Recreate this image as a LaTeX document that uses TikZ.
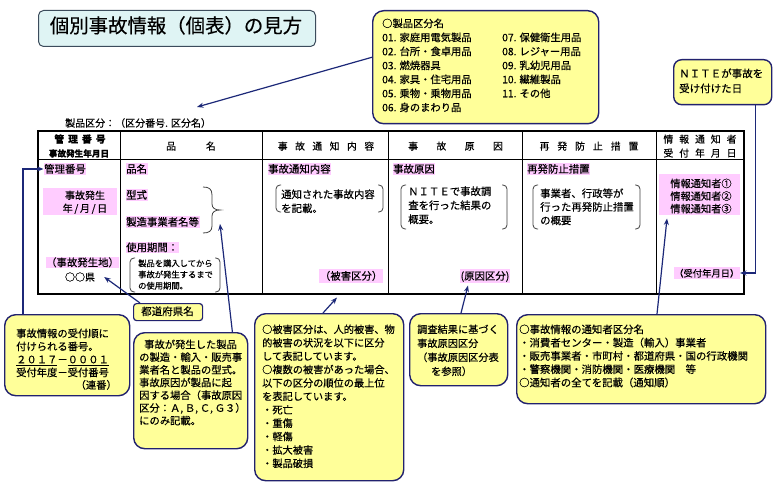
\documentclass[tikz,border=0pt]{standalone}
\usepackage{fontspec}
\setmainfont{Noto Sans CJK JP}[FakeBold=0.35]
\usetikzlibrary{arrows.meta,calc}
\definecolor{navy}{HTML}{22226E}
\definecolor{arrowc}{HTML}{1C2878}
\definecolor{boxy}{HTML}{FFFF99}
\definecolor{pinkhl}{HTML}{FFCCFF}
\definecolor{titlefill}{HTML}{DFF4F4}
\definecolor{titledraw}{HTML}{3C4C5C}
\newcommand{\fs}[2]{\fontsize{#1bp}{#2bp}\selectfont}
\newcommand{\gp}[1]{\hspace{#1bp}}
\begin{document}
\begin{tikzpicture}[x=1bp,y=-1bp,
  ybox/.style={draw=navy, line width=1.4bp, fill=boxy, rounded corners=11bp, inner sep=0, anchor=north west},
  hl/.style={fill=pinkhl, inner xsep=0.5bp, inner ysep=1.5bp, text height=0.83em, text depth=0.07em},
  hlbox/.style={fill=pinkhl, inner sep=0, anchor=north west},
  txt/.style={inner sep=0, anchor=north west, align=left},
  hdr/.style={inner sep=0, text height=0.83em, text depth=0.07em, font=\fs{9.8}{12}},
  arr/.style={draw=arrowc, line width=1.2bp, -{Stealth[length=6.5bp,width=5bp]}},
  brk/.style={draw=black!75, line width=0.8bp, rounded corners=4bp}
]
\useasboundingbox (0,0) rectangle (778,485);
\fill[white] (0,0) rectangle (778,485);

% title
\node[draw=titledraw, line width=1bp, fill=titlefill, rounded corners=5bp, inner sep=0,
      minimum width=277bp, minimum height=36bp, anchor=north west] (title) at (38,10) {};
\node[inner sep=0, text height=0.83em, text depth=0.07em, font=\fs{19.4}{22}] (titletxt) at (176,29) {個別事故情報（個表）の見方};

% label above table
\node[inner sep=0, anchor=west, text height=0.83em, text depth=0.07em, font=\fs{10}{12}] (seihin) at (65,123) {製品区分：（区分番号. 区分名）};
\coordinate (c1) at (197,107);

% table
\draw[line width=1.4bp] (38,131) rectangle (744,294);
\draw[line width=1bp] (38,160) -- (744,160);
\foreach \cx in {120,262,388,522,656} \draw[line width=1bp] (\cx,131) -- (\cx,294);

% header
\node[hdr, font=\fs{9.8}{12}\bfseries] (h1a) at (80,139) {管\gp{4}理\gp{4}番\gp{4}号};
\node[hdr, font=\fs{8.6}{10}\bfseries] (h1b) at (79,153) {事故発生年月日};
\node[hdr] (h2) at (191,146) {品\gp{30}名};
\node[hdr] (h3) at (326,146) {事\gp{7.5}故\gp{7.5}通\gp{7.5}知\gp{7.5}内\gp{7.5}容};
\node[hdr] (h4) at (455.5,146) {事\gp{18.5}故\gp{18.5}原\gp{18.5}因};
\node[hdr] (h5) at (589,146) {再\gp{8}発\gp{8}防\gp{8}止\gp{8}措\gp{8}置};
\node[hdr] (h6a) at (700,139) {情\gp{6}報\gp{6}通\gp{6}知\gp{6}者};
\node[hdr] (h6b) at (700,153) {受\gp{6}付\gp{6}年\gp{6}月\gp{6}日};

% column 1
\node[hl, anchor=west, font=\fs{10.4}{12}] (hl1) at (43.5,169) {管理番号};
\node[hlbox, minimum width=74bp, minimum height=27bp] (hl2) at (43,188) {};
\node[txt, align=center, anchor=north, font=\fs{10}{13}] (hl2t) at (85,190.5) {事故発生\\年\,/\,月\,/\,日};
\node[hl, font=\fs{10.4}{12}] (hl3) at (82.5,262.5) {（事故発生地）};
\node[inner sep=0, text height=0.83em, text depth=0.07em, font=\fs{10}{12}] (ken) at (80,277) {○○県};

% column 2
\node[hl, anchor=west, font=\fs{10.4}{12}] (hinmei) at (125.5,169) {品名};
\node[hl, anchor=west, font=\fs{10.4}{12}] (kata) at (125.5,195) {型式};
\node[hl, anchor=west, font=\fs{10.4}{12}] (seizo) at (125.5,222) {製造事業者名等};
\draw[draw=black!75, line width=0.8bp] (203,187) .. controls (209,187) and (212,189) .. (212,195) -- (212,204)
   .. controls (212,208) and (215,210) .. (220,210) .. controls (215,210) and (212,212) .. (212,216) -- (212,226)
   .. controls (212,231) and (209,233) .. (203,233);
\coordinate (c4) at (220,224);
\node[hl, anchor=west, font=\fs{10.4}{12}] (shiyo) at (125.5,247.5) {使用期間：};
\draw[brk] (135,258) -- (130,258) -- (130,292) -- (135,292);
\draw[brk] (215,258) -- (220,258) -- (220,292) -- (215,292);
\node[txt, font=\fs{8.3}{11.2}] (shiyot) at (138,259.3) {製品を購入してから\\事故が発生するまで\\の使用期間。};

% column 3
\node[hl, anchor=west, font=\fs{10.4}{12}] (tsuchi) at (267.5,169) {事故通知内容};
\draw[brk] (281,185) -- (276,185) -- (276,212) -- (281,212);
\draw[brk] (378,185) -- (383,185) -- (383,212) -- (378,212);
\node[txt, font=\fs{10.4}{14}] (tsuchit) at (281,189.3) {通知された事故内容\\を記載。};
\node[hl, anchor=east, inner ysep=2.5bp, font=\fs{10.4}{12}] (higai) at (383,276) {（被害区分）};
\coordinate (c5) at (337,297.5);

% column 4
\node[hl, anchor=west, font=\fs{10.4}{12}] (genin) at (392.5,169) {事故原因};
\draw[brk] (406,185) -- (401,185) -- (401,229) -- (406,229);
\draw[brk] (502,185) -- (507,185) -- (507,229) -- (502,229);
\node[txt, font=\fs{10.4}{14}] (genint) at (408,186.3) {ＮＩＴＥで事故調\\査を行った結果の\\概要。};
\node[hl, anchor=east, inner ysep=2.5bp, font=\fs{10.4}{12}] (geninkb) at (510,276) {(原因区分)};
\coordinate (c6) at (468,285.5);

% column 5
\node[hl, anchor=west, font=\fs{10.4}{12}] (saihatsu) at (526.5,169) {再発防止措置};
\draw[brk] (538,185) -- (533,185) -- (533,229) -- (538,229);
\draw[brk] (635,185) -- (640,185) -- (640,229) -- (635,229);
\node[txt, font=\fs{10.4}{13.5}] (saihatsut) at (540,188.3) {事業者、行政等が\\行った再発防止措置\\の概要};

% column 6
\node[hlbox, minimum width=81bp, minimum height=41bp] (tsuchisha) at (659,174) {};
\node[txt, align=center, anchor=north, font=\fs{10.2}{12.6}] (tsuchishat) at (701,178.5) {情報通知者①\\情報通知者②\\情報通知者③};
\coordinate (c7) at (667,218.5);
\node[hl, anchor=east, inner ysep=1.5bp, font=\fs{9.3}{12}] (uke) at (740,273) {（受付年月日）};

% top box
\node[ybox, minimum width=226bp, minimum height=113bp] (topbox) at (372,10) {};
\node[txt, font=\fs{10.3}{14}] (topt1) at (382,18.4) {○製品区分名\\01. 家庭用電気製品\\02. 台所・食卓用品\\03. 燃焼器具\\04. 家具・住宅用品\\05. 乗物・乗物用品\\06. 身のまわり品};
\node[txt, font=\fs{10.3}{14}] (topt2) at (502,32.4) {07. 保健衛生用品\\08. レジャー用品\\09. 乳幼児用品\\10. 繊維製品\\11. その他};

% NITE box
\node[ybox, minimum width=98bp, minimum height=45bp, rounded corners=8bp] (nite) at (673,59) {};
\node[txt, font=\fs{10.5}{15}] (nitet) at (679,68.3) {ＮＩＴＥが事故を\\受け付けた日};

% left box
\node[ybox, minimum width=125bp, minimum height=81bp] (lbox) at (4,314) {};
\node[txt, font=\fs{10.3}{13}] (lboxt) at (16,328.4) {事故情報の受付順に\\付けられる番号。\\\underline{２０１７}－\underline{０００１}\\受付年度－受付番号};
\node[inner sep=0, anchor=east, text height=0.83em, text depth=0.07em, font=\fs{10.3}{13}] (renban) at (117,385) {（連番）};

% todofuken box
\node[ybox, minimum width=69bp, minimum height=17bp, rounded corners=3bp, line width=1.2bp] (todo) at (133,303) {};
\node[inner sep=0, text height=0.83em, text depth=0.07em, font=\fs{10.5}{12}] (todot) at (167.5,311.5) {都道府県名};

% middle box
\node[ybox, minimum width=114bp, minimum height=116bp] (mbox) at (133,332) {};
\node[txt, font=\fs{10.3}{12.7}] (mboxt) at (139,339.4) {\hspace{5bp}事故が発生した製品\\の製造・輸入・販売事\\業者名と製品の型式。\\事故原因が製品に起\\因する場合（事故原因\\区分：Ａ,\,Ｂ,\,Ｃ,\,Ｇ３）\\にのみ記載。};

% higai box
\node[ybox, minimum width=149bp, minimum height=167bp] (hbox) at (254,313) {};
\node[txt, font=\fs{10.2}{13.4}] (hboxt) at (262,324.4) {○被害区分は、人的被害、物\\的被害の状況を以下に区分\\して表記しています。\\○複数の被害があった場合、\\以下の区分の順位の最上位\\を表記しています。\\・死亡\\・重傷\\・軽傷\\・拡大被害\\・製品破損};

% chosa box
\node[ybox, minimum width=98bp, minimum height=72bp] (cbox) at (409,313) {};
\node[txt, font=\fs{10.2}{14}] (cboxt) at (417,324.4) {調査結果に基づく\\事故原因区分\\（事故原因区分表\\\hspace{14bp}を参照）};

% right box
\node[ybox, minimum width=249bp, minimum height=89bp] (rbox) at (516,314) {};
\node[txt, font=\fs{10.4}{13.3}] (rboxt) at (519,324.3) {○事故情報の通知者区分名\\・消費者センター・製造（輸入）事業者\\・販売事業者・市町村・都道府県・国の行政機関\\・警察機関・消防機関・医療機関　等\\○通知者の全てを記載（通知順）};

% connectors
\draw[arr] (topbox.175) -- (c1);
\draw[arr] ([xshift=19bp]lbox.north west) |- (hl1.west);
\draw[arr] ([xshift=7bp]todo.north west) -- ([xshift=9bp]ken.east);
\draw[arr] ([xshift=-16bp]mbox.north east) -- (c4);
\draw[arr] ([xshift=69bp]hbox.north west) -- (c5);
\draw[arr] ([xshift=52bp]cbox.north west) -- (c6);
\draw[arr] ([xshift=141bp]rbox.north west) -- (c7);
\draw[arr] ([xshift=-17bp]nite.south east) |- (uke.east);
\end{tikzpicture}
\end{document}
